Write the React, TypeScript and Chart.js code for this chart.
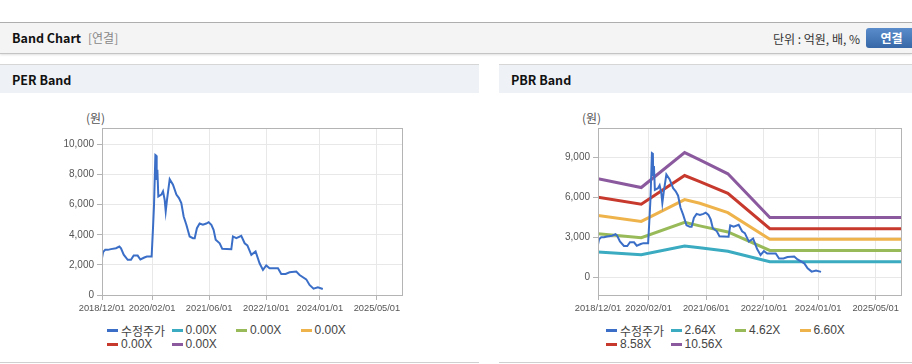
import React, { useEffect, useRef } from 'react';
import { Chart, registerables } from 'chart.js';

Chart.register(...registerables);

// ---------- data ----------
const priceDates = [
  '2018-12-01', '2018-12-10', '2018-12-28', '2019-01-20', '2019-02-15', '2019-03-30', '2019-04-28', '2019-05-12',
  '2019-06-04', '2019-07-08', '2019-08-05', '2019-08-28', '2019-10-01', '2019-10-24', '2019-11-27', '2019-12-19',
  '2020-01-28', '2020-02-08', '2020-02-17', '2020-02-29', '2020-03-08', '2020-03-11', '2020-03-17', '2020-03-25',
  '2020-04-20', '2020-05-04', '2020-05-18', '2020-05-27', '2020-06-07', '2020-06-30', '2020-07-28', '2020-08-26',
  '2020-09-17', '2020-10-07', '2020-10-27', '2020-11-19', '2020-12-17', '2021-01-14', '2021-01-29', '2021-02-17',
  '2021-03-12', '2021-04-09', '2021-05-08', '2021-05-28', '2021-06-20', '2021-07-09', '2021-07-27', '2021-08-30',
  '2021-09-21', '2021-12-07', '2021-12-21', '2022-01-19', '2022-03-02', '2022-03-31', '2022-04-23', '2022-05-27',
  '2022-07-02', '2022-08-05', '2022-09-03', '2022-10-01', '2022-10-29', '2023-01-09', '2023-02-06', '2023-03-15',
  '2023-04-18', '2023-06-14', '2023-07-12', '2023-09-07', '2023-10-05', '2023-11-08', '2023-12-15', '2024-01-26',
];
const priceValues = [
  2450, 2850, 3000, 3000, 3050, 3110, 3220, 3100,
  2680, 2340, 2340, 2620, 2620, 2360, 2490, 2555,
  2555, 4330, 5900, 9300, 9250, 7650, 8330, 6550,
  6670, 6890, 6330, 5560, 6330, 7700, 7330, 6670,
  6440, 6110, 5220, 4670, 3890, 3780, 3780, 4440,
  4750, 4670, 4750, 4840, 4670, 4330, 3670, 3440,
  3070, 3040, 3890, 3780, 3930, 3440, 3300, 2670,
  2890, 2110, 1670, 1960, 1780, 1780, 1400, 1400,
  1510, 1560, 1330, 1040, 670, 420, 510, 400,
];

const bandDates = ['2018-12-01', '2019-12-01', '2020-12-01', '2021-04-08', '2021-12-01', '2022-11-20', '2025-12-01'];
const pbrBand264 = [1890, 1680, 2340, 2210, 1940, 1170, 1170];
const pbrBand462 = [3250, 2960, 4110, 3850, 3390, 2010, 2010];
const pbrBand660 = [4620, 4180, 5820, 5540, 4840, 2840, 2840];
const pbrBand858 = [6000, 5470, 7620, 7170, 6290, 3640, 3640];
const pbrBand1056 = [7380, 6720, 9340, 8800, 7750, 4480, 4480];

const perLegend = ['수정주가', '0.00X', '0.00X', '0.00X', '0.00X', '0.00X'];
const pbrLegend = ['수정주가', '2.64X', '4.62X', '6.60X', '8.58X', '10.56X'];

const xTickDates = ['2018-12-01', '2020-02-01', '2021-06-01', '2022-10-01', '2024-01-01', '2025-05-01'];
const xTickLabels = ['2018/12/01', '2020/02/01', '2021/06/01', '2022/10/01', '2024/01/01', '2025/05/01'];
const xRange = ['2018-12-01', '2025-12-01'];
const perYTicks = [0, 2000, 4000, 6000, 8000, 10000];
const pbrYTicks = [0, 3000, 6000, 9000];

const seriesColors = ['#3b6fc7', '#3aabc0', '#99ba58', '#efb34b', '#c8392d', '#8b5a9e'];

// ---------- helpers ----------
const TICK_FONT = "'Liberation Sans', Arial, sans-serif";
const KR_FONT = "'Noto Sans CJK KR', 'Noto Sans', sans-serif";

const toPts = (dates: string[], vals: number[]) => dates.map((d, i) => ({ x: Date.parse(d), y: vals[i] }));

const framePlugin = {
  id: 'frame',
  afterDatasetsDraw(chart: any) {
    const { ctx, chartArea: a } = chart;
    ctx.save();
    ctx.strokeStyle = '#b4b4b4';
    ctx.lineWidth = 1;
    ctx.strokeRect(Math.round(a.left) + 0.5, Math.round(a.top) + 0.5, Math.round(a.right - a.left), Math.round(a.bottom - a.top));
    ctx.restore();
  },
};

function makeConfig(datasets: any[], yMin: number, yMax: number, yTicks: number[], yWidth: number, padRight: number): any {
  return {
    type: 'line',
    data: { datasets },
    plugins: [framePlugin],
    options: {
      animation: false,
      responsive: false,
      maintainAspectRatio: false,
      layout: { padding: { top: 28, left: 0, right: padRight, bottom: 0 } },
      plugins: { legend: { display: false }, tooltip: { enabled: false } },
      elements: { point: { radius: 0 } },
      scales: {
        x: {
          type: 'linear',
          min: Date.parse(xRange[0]),
          max: Date.parse(xRange[1]),
          afterBuildTicks: (s: any) => {
            s.ticks = xTickDates.map((d) => ({ value: Date.parse(d) }));
          },
          afterFit: (s: any) => {
            s.height = 25;
          },
          ticks: {
            autoSkip: false,
            maxRotation: 0,
            padding: 3,
            color: '#555',
            font: { family: TICK_FONT, size: 9.3 },
            callback: (_v: any, i: number) => xTickLabels[i],
          },
          grid: { color: '#e8e8e8', tickLength: 5, tickColor: '#b4b4b4' },
          border: { color: '#b4b4b4' },
        },
        y: {
          min: yMin,
          max: yMax,
          afterBuildTicks: (s: any) => {
            s.ticks = yTicks.map((v) => ({ value: v }));
          },
          afterFit: (s: any) => {
            s.width = yWidth;
          },
          ticks: {
            padding: 3,
            color: '#555',
            font: { family: TICK_FONT, size: 10 },
            callback: (v: any) => Number(v).toLocaleString('en-US'),
          },
          grid: { color: '#e8e8e8', tickLength: 5, tickColor: '#b4b4b4' },
          border: { color: '#b4b4b4' },
        },
      },
    },
  };
}

function ChartCanvas({ config, left, top, width, height }: any) {
  const ref = useRef<HTMLCanvasElement | null>(null);
  useEffect(() => {
    if (!ref.current) return;
    const chart = new Chart(ref.current, config);
    return () => chart.destroy();
  }, []);
  return (
    <canvas
      ref={ref}
      width={width}
      height={height}
      style={{ position: 'absolute', left, top, width, height }}
    />
  );
}

function Legend({ labels, left }: { labels: string[]; left: number }) {
  const colW = 64.5;
  return (
    <>
      {labels.map((l, i) => {
        const row = Math.floor(i / 4);
        const col = i % 4;
        return (
          <div
            key={i}
            style={{
              position: 'absolute',
              left: left + col * colW,
              top: 322 + row * 14,
              height: 16,
              display: 'flex',
              alignItems: 'center',
              whiteSpace: 'nowrap',
              fontFamily: i === 0 ? KR_FONT : "'Liberation Sans', Arial, sans-serif",
              fontSize: 12,
              color: '#444',
            }}
          >
            <span style={{ display: 'inline-block', width: 11, height: 3, background: seriesColors[i], marginRight: 3 }} />
            <span>{l}</span>
          </div>
        );
      })}
    </>
  );
}

function Panel({ left, title }: { left: number; title: string }) {
  return (
    <>
      <div style={{ position: 'absolute', left, top: 64, width: 479, height: 1, background: '#d6d6d6' }} />
      <div style={{ position: 'absolute', left, top: 65, width: 479, height: 28, background: '#eef2f7' }} />
      <div
        style={{
          position: 'absolute',
          left: left + 12,
          top: 72,
          fontFamily: KR_FONT,
          fontWeight: 700,
          fontSize: 12.5,
          lineHeight: '16px',
          color: '#111',
        }}
      >
        {title}
      </div>
      <div style={{ position: 'absolute', left, top: 362, width: 479, height: 1, background: '#d0d0d0' }} />
    </>
  );
}

export default function App() {
  const perDatasets = [
    { data: toPts(priceDates, priceValues), borderColor: seriesColors[0], borderWidth: 2, tension: 0 },
    ...[1, 2, 3, 4, 5].map((i) => ({ data: [], borderColor: seriesColors[i], borderWidth: 3 })),
  ];
  const pbrDatasets = [
    { data: toPts(priceDates, priceValues), borderColor: seriesColors[0], borderWidth: 2, tension: 0 },
    { data: toPts(bandDates, pbrBand264), borderColor: seriesColors[1], borderWidth: 3 },
    { data: toPts(bandDates, pbrBand462), borderColor: seriesColors[2], borderWidth: 3 },
    { data: toPts(bandDates, pbrBand660), borderColor: seriesColors[3], borderWidth: 3 },
    { data: toPts(bandDates, pbrBand858), borderColor: seriesColors[4], borderWidth: 3 },
    { data: toPts(bandDates, pbrBand1056), borderColor: seriesColors[5], borderWidth: 3 },
  ];

  const perConfig = makeConfig(perDatasets, 0, 11100, perYTicks, 102, 77);
  const pbrConfig = makeConfig(pbrDatasets, -1330, 11180, pbrYTicks, 99, 11);

  return (
    <div style={{ position: 'fixed', left: 0, top: 0, width: 912, height: 364, background: '#fff', overflow: 'hidden' }}>
      {/* header bar */}
      <div style={{ position: 'absolute', left: 0, top: 22, width: 912, height: 1, background: '#b0b0b0' }} />
      <div
        style={{
          position: 'absolute',
          left: 0,
          top: 23,
          width: 912,
          height: 30,
          background: '#f4f4f4',
          borderBottom: '1px solid #c4c4c4',
          boxShadow: '0 1px 2px rgba(0,0,0,0.12)',
        }}
      />
      <div
        style={{
          position: 'absolute',
          left: 12,
          top: 30,
          fontFamily: KR_FONT,
          fontWeight: 700,
          fontSize: 12.5,
          lineHeight: '16px',
          color: '#111',
        }}
      >
        Band Chart
      </div>
      <div
        style={{ position: 'absolute', left: 88, top: 30, fontFamily: KR_FONT, fontSize: 12, lineHeight: '16px', color: '#888' }}
      >
        [연결]
      </div>
      <div
        style={{
          position: 'absolute',
          right: 52,
          top: 31,
          fontFamily: KR_FONT,
          fontSize: 12,
          lineHeight: '16px',
          color: '#333',
          whiteSpace: 'nowrap',
        }}
      >
        단위 : 억원, 배, %
      </div>
      <div
        style={{
          position: 'absolute',
          left: 866,
          top: 28,
          width: 51,
          height: 20,
          borderRadius: 3,
          background: 'linear-gradient(#5a8ccb, #3767a6)',
          color: '#fff',
          fontFamily: KR_FONT,
          fontWeight: 700,
          fontSize: 12,
          lineHeight: '20px',
          textAlign: 'center',
        }}
      >
        연결
      </div>

      <Panel left={0} title="PER Band" />
      <Panel left={499} title="PBR Band" />

      <div style={{ position: 'absolute', left: 86, top: 110, fontFamily: KR_FONT, fontSize: 12, lineHeight: '16px', color: '#555' }}>
        (원)
      </div>
      <div style={{ position: 'absolute', left: 582, top: 110, fontFamily: KR_FONT, fontSize: 12, lineHeight: '16px', color: '#555' }}>
        (원)
      </div>

      <ChartCanvas config={perConfig} left={0} top={100} width={479} height={220} />
      <ChartCanvas config={pbrConfig} left={499} top={100} width={413} height={220} />

      <Legend labels={perLegend} left={107} />
      <Legend labels={pbrLegend} left={606} />
    </div>
  );
}
